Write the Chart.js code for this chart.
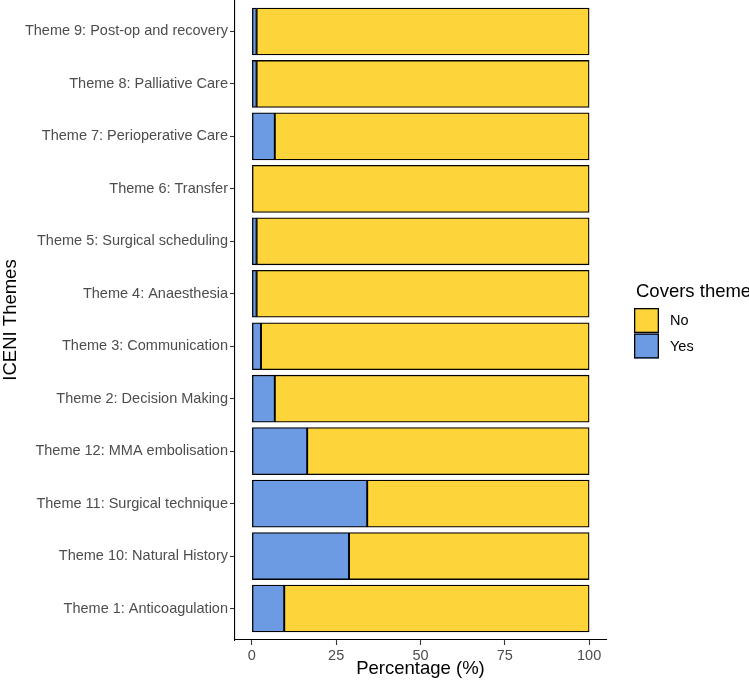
<!DOCTYPE html>
<html>
<head>
<meta charset="utf-8">
<script src="https://cdn.jsdelivr.net/npm/chart.js@4.4.1/dist/chart.umd.min.js"></script>
<style>
  body { margin: 0; background: #fff; }
</style>
</head>
<body>
<canvas id="chart" width="749" height="686"></canvas>
<script>
// categories, top to bottom as in the figure
var themes = [
  'Theme 9: Post-op and recovery',
  'Theme 8: Palliative Care',
  'Theme 7: Perioperative Care',
  'Theme 6: Transfer',
  'Theme 5: Surgical scheduling',
  'Theme 4: Anaesthesia',
  'Theme 3: Communication',
  'Theme 2: Decision Making',
  'Theme 12: MMA embolisation',
  'Theme 11: Surgical technique',
  'Theme 10: Natural History',
  'Theme 1: Anticoagulation'
];
var yesPct = [1.4, 1.4, 6.8, 0, 1.4, 1.4, 2.7, 6.8, 16.4, 34.2, 28.8, 9.6];
var noPct = [98.6, 98.6, 93.2, 100, 98.6, 98.6, 97.3, 93.2, 83.6, 65.8, 71.2, 90.4];
var xTicks = [0, 25, 50, 75, 100];
var legendTitle = 'Covers theme';

var fam = '"Liberation Sans", Arial, sans-serif';
Chart.defaults.font.family = fam;

// ggplot-like legend to the right of the panel
const sideLegend = {
  id: 'sideLegend',
  afterDraw(chart) {
    const ctx = chart.ctx, area = chart.chartArea;
    const x = area.right + 28;
    const cy = (area.top + area.bottom) / 2;
    ctx.save();
    ctx.fillStyle = '#000';
    ctx.font = '18.5px ' + fam;
    ctx.textBaseline = 'alphabetic';
    ctx.fillText(legendTitle, x + 2, cy - 23);
    const items = chart.data.datasets.slice().reverse();
    items.forEach((ds, i) => {
      const top = cy - 12 + i * 25.5;
      ctx.fillStyle = ds.backgroundColor;
      ctx.fillRect(x, top, 25, 25);
      ctx.strokeStyle = '#000';
      ctx.lineWidth = 1.3;
      ctx.strokeRect(x + 0.65, top + 0.65, 23.7, 23.7);
      ctx.fillStyle = '#000';
      ctx.font = '14.5px ' + fam;
      ctx.textBaseline = 'middle';
      ctx.fillText(ds.label, x + 36, top + 13);
    });
    ctx.restore();
  }
};

const chart = new Chart(document.getElementById('chart'), {
  type: 'bar',
  data: {
    labels: themes,
    datasets: [
      {
        label: 'Yes',
        data: yesPct,
        backgroundColor: '#6D9BE3',
        borderColor: '#000',
        borderWidth: 1.3,
        borderSkipped: false,
        barThickness: 47
      },
      {
        label: 'No',
        data: noPct,
        backgroundColor: '#FDD43A',
        borderColor: '#000',
        borderWidth: 1.3,
        borderSkipped: false,
        barThickness: 47
      }
    ]
  },
  options: {
    indexAxis: 'y',
    responsive: false,
    animation: false,
    layout: { padding: { left: 0, right: 143, top: 0, bottom: 0 } },
    plugins: {
      legend: { display: false },
      tooltip: { enabled: false }
    },
    scales: {
      x: {
        stacked: true,
        min: -5,
        max: 105,
        afterBuildTicks: s => { s.ticks = xTicks.map(v => ({ value: v })); },
        afterFit: s => { s.height = 46; },
        border: { display: true, color: '#000', width: 1.1 },
        grid: { drawOnChartArea: false, tickLength: 5, tickColor: '#333', tickWidth: 1.1 },
        ticks: { color: '#4D4D4D', font: { size: 14.5 }, padding: 2 },
        title: {
          display: true, text: 'Percentage (%)', color: '#000',
          font: { size: 18.5 }, padding: { top: 2, bottom: 6 }
        }
      },
      y: {
        stacked: true,
        offset: true,
        // ggplot discrete expansion (0.6 units each side)
        afterBuildTicks: s => { s._startValue = -0.6; s._valueRange = themes.length + 0.2; },
        afterFit: s => { s.width = 235; s.paddingTop = 0; s.paddingBottom = 0; },
        border: { display: true, color: '#000', width: 1.1 },
        grid: { drawOnChartArea: false, offset: false, tickLength: 5, tickColor: '#333', tickWidth: 1.1 },
        ticks: { color: '#4D4D4D', font: { size: 14.5 }, padding: 2, autoSkip: false },
        title: {
          display: true, text: 'ICENI Themes', color: '#000',
          font: { size: 18.5 }, padding: { top: 0, bottom: 0 }
        }
      }
    }
  },
  plugins: [sideLegend]
});
</script>
</body>
</html>
